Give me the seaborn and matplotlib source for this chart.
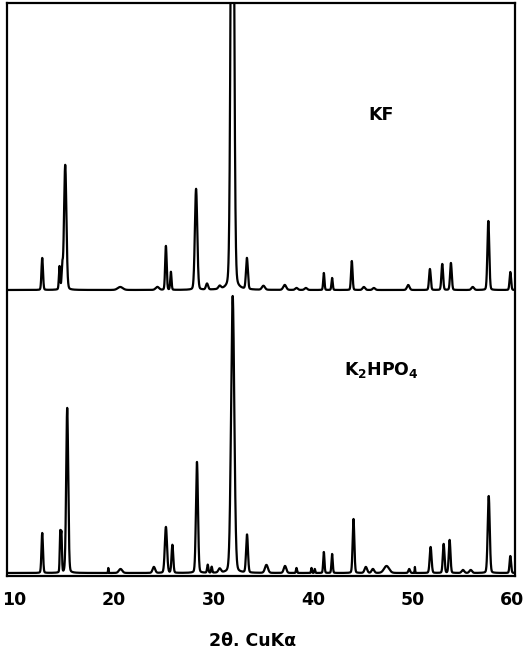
import numpy as np
import pandas as pd
import matplotlib
matplotlib.use("Agg")
import matplotlib.pyplot as plt
import seaborn as sns

# ---- data (2theta in degrees, heights in arbitrary units) ----
kf_pos = [12.79, 14.53, 14.80, 15.10, 20.63, 24.36, 25.22, 25.72, 28.25, 29.35,
          30.62, 31.90, 33.36, 35.02, 37.16, 38.34, 39.28, 41.09, 41.92, 43.90,
          45.11, 46.12, 49.57, 51.75, 52.99, 53.86, 56.05, 57.62, 59.83]
kf_height = [32, 23, 21, 125, 3, 3, 44, 18, 101, 6,
             3, 700, 31, 4, 5, 2, 2, 17, 12, 29,
             3, 2, 5, 21, 26, 27, 3, 69, 18]
kf_width = [0.18, 0.15, 0.15, 0.28, 0.6, 0.4, 0.18, 0.15, 0.28, 0.25,
            0.3, 0.34, 0.22, 0.35, 0.35, 0.3, 0.3, 0.15, 0.15, 0.18,
            0.3, 0.3, 0.3, 0.2, 0.2, 0.2, 0.3, 0.22, 0.18]

k2_pos = [12.79, 14.60, 14.72, 15.30, 19.43, 20.66, 24.01, 25.22, 25.87, 28.34,
          29.42, 29.82, 30.62, 31.93, 33.37, 35.32, 37.19, 38.34, 39.85, 40.18,
          41.09, 41.92, 44.07, 45.31, 46.02, 47.39, 49.67, 50.24, 51.82, 53.13,
          53.73, 55.07, 55.85, 57.66, 59.83]
k2_height = [40, 39, 38, 165, 5, 4, 6, 46, 28, 111,
             8, 6, 4, 277, 38, 8, 7, 5, 5, 4,
             21, 19, 54, 6, 4, 7, 4, 6, 26, 29,
             33, 3, 3, 77, 17]
k2_width = [0.18, 0.12, 0.12, 0.24, 0.06, 0.4, 0.3, 0.26, 0.2, 0.24,
            0.15, 0.12, 0.3, 0.38, 0.22, 0.35, 0.3, 0.12, 0.1, 0.1,
            0.15, 0.15, 0.2, 0.3, 0.3, 0.6, 0.2, 0.06, 0.22, 0.2,
            0.2, 0.3, 0.3, 0.24, 0.18]

tick_values = [10, 20, 30, 40, 50, 60]
tick_labels = ["10", "20", "30", "40", "50", "60"]
trace_names = ["KF", r"$\mathbf{K_2HPO_4}$"]
x_label = "2θ. CuKα"
upper_offset = 283

# ---- build profiles from the peak lists ----
x = np.linspace(9.25, 60.3, 6000)


def profile(pos, height, width, eta=0.12):
    y = np.zeros_like(x)
    for p, h, w in zip(pos, height, width):
        d = (x - p) / (w / 2.0)
        g = np.exp(-np.log(2) * d ** 2)
        l = 1.0 / (1.0 + d ** 2)
        y += h * ((1 - eta) * g + eta * l)
    return y


df = pd.DataFrame({
    "two_theta": np.concatenate([x, x]),
    "intensity": np.concatenate([profile(kf_pos, kf_height, kf_width) + upper_offset,
                                 profile(k2_pos, k2_height, k2_width)]),
    "sample": ["KF"] * len(x) + ["K2HPO4"] * len(x),
})

sns.set_theme(style="white")
plt.rcParams["font.family"] = ["DejaVu Sans"]
plt.rcParams["text.color"] = "black"
plt.rcParams["axes.labelcolor"] = "black"
plt.rcParams["xtick.color"] = "black"
plt.rcParams["mathtext.fontset"] = "dejavusans"

fig = plt.figure(figsize=(5.3, 6.5), dpi=100)
ax = fig.add_axes([7 / 530, 1 - 576 / 650, 508 / 530, 573 / 650])

sns.lineplot(data=df, x="two_theta", y="intensity", units="sample", estimator=None,
             sort=False, color="black", linewidth=1.6, ax=ax, legend=False)

ax.set_xlim(9.25, 60.3)
ax.set_ylim(-3, 570)
ax.set_yticks([])
ax.set_xticks(tick_values)
ax.set_xticklabels(tick_labels, fontsize=12.5, fontweight="bold")
ax.tick_params(axis="x", length=0, pad=11, colors="black")
ax.set_ylabel("")
for s in ax.spines.values():
    s.set_visible(True)
    s.set_color("black")
    s.set_linewidth(1.6)

ax.set_xlabel(x_label, fontsize=12.5, fontweight="bold", color="black")
ax.xaxis.set_label_coords(0.484, -0.097)
ax.xaxis.label.set_va("top")

ax.text((381 - 7) / 508, (576 - 115) / 573, trace_names[0], transform=ax.transAxes,
        fontsize=12.5, fontweight="bold", ha="center", va="center", color="black")
ax.text((381 - 7) / 508, (576 - 370) / 573, trace_names[1], transform=ax.transAxes,
        fontsize=12.5, ha="center", va="center", color="black")

fig.savefig("out.png", dpi=100, facecolor="white")
